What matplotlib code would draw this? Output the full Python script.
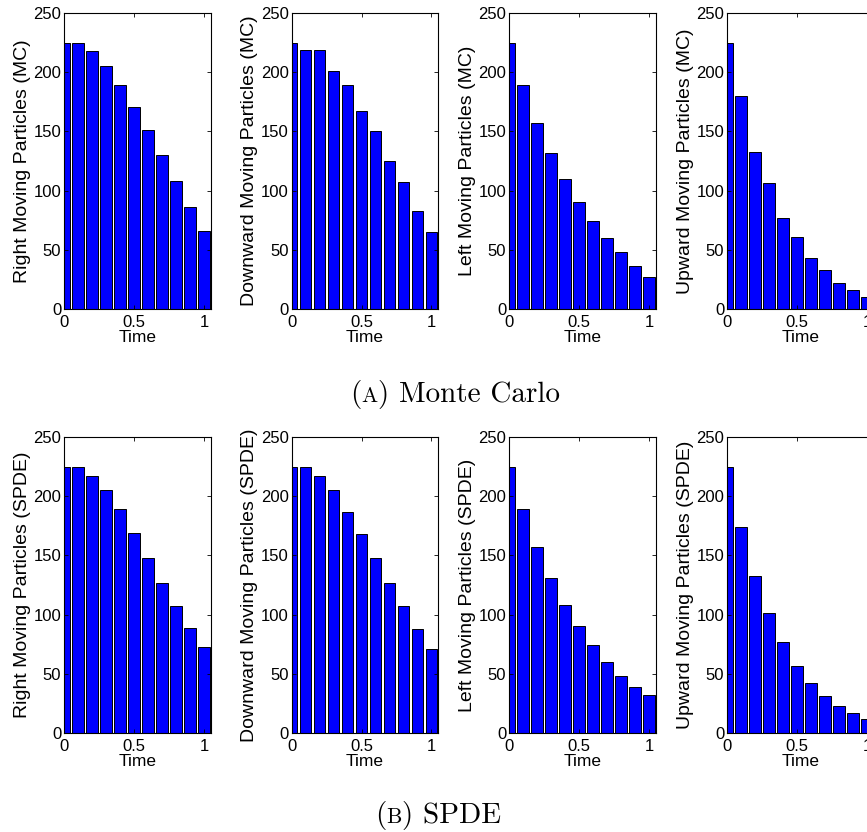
import numpy as np
import matplotlib
matplotlib.use("Agg")
import matplotlib.pyplot as plt

# time grid shared by every panel
time = [0.0, 0.1, 0.2, 0.3, 0.4, 0.5, 0.6, 0.7, 0.8, 0.9, 1.0]

# Monte Carlo counts
right_mc = [225, 225, 218, 205, 189, 171, 151, 130, 108, 86, 66]
down_mc  = [225, 219, 219, 201, 189, 167, 150, 125, 107, 83, 65]
left_mc  = [225, 189, 157, 132, 110, 90, 74, 60, 48, 36, 27]
up_mc    = [225, 180, 133, 106, 77, 61, 43, 33, 22, 16, 10]

# SPDE counts
right_spde = [225, 225, 217, 205, 189, 169, 148, 127, 107, 89, 73]
down_spde  = [225, 225, 217, 205, 187, 168, 148, 127, 107, 88, 71]
left_spde  = [225, 189, 157, 131, 108, 90, 74, 60, 48, 39, 32]
up_spde    = [225, 174, 133, 101, 77, 57, 42, 31, 23, 17, 12]

rows = [
    ([right_mc, down_mc, left_mc, up_mc],
     ["Right Moving Particles (MC)", "Downward Moving Particles (MC)",
      "Left Moving Particles (MC)", "Upward Moving Particles (MC)"]),
    ([right_spde, down_spde, left_spde, up_spde],
     ["Right Moving Particles (SPDE)", "Downward Moving Particles (SPDE)",
      "Left Moving Particles (SPDE)", "Upward Moving Particles (SPDE)"]),
]
# caption pieces: "(", small-cap letter, rest
captions = [("(", "A", ") Monte Carlo"), ("(", "B", ") SPDE")]

W, H = 867, 832
fig = plt.figure(figsize=(W / 100, H / 100), dpi=100)
plt.rcParams["font.family"] = ["Liberation Sans", "DejaVu Sans"]

lefts = [64, 291.5, 509, 727]
row_top = [13, 437]
ax_w, ax_h = 147, 296

for r, (series, labels) in enumerate(rows):
    for c in range(4):
        ax = fig.add_axes([lefts[c] / W, 1 - (row_top[r] + ax_h) / H, ax_w / W, ax_h / H])
        ax.bar(time, series[c], width=0.08, color="#0000ff", edgecolor="black", linewidth=0.7)
        ax.set_xlim(0, 1.05)
        ax.set_ylim(0, 250)
        ax.set_xticks([0, 0.5, 1])
        ax.set_xticklabels(["0", "0.5", "1"])
        ax.set_yticks([0, 50, 100, 150, 200, 250])
        ax.tick_params(direction="in", top=True, right=True, length=3, width=0.6,
                       labelsize=12, pad=2)
        ax.tick_params(axis="x", pad=4)
        for sp in ax.spines.values():
            sp.set_linewidth(0.8)
        ax.set_xlabel("Time", fontsize=12.5, labelpad=0)
        ax.set_ylabel(labels[c], fontsize=14, labelpad=2)

# captions in a Computer Modern look, small caps faked with a smaller capital
renderer = fig.canvas.get_renderer()
cap_center = [455, 438]
cap_base = [402, 823]
sizes = [21, 15.5, 21]
for cx, by, pieces in zip(cap_center, cap_base, captions):
    texts = [fig.text(0, 1 - by / H, p, fontsize=s, family="cmr10", va="baseline")
             for p, s in zip(pieces, sizes)]
    widths = [t.get_window_extent(renderer).width for t in texts]
    x = cx - sum(widths) / 2
    for t, w in zip(texts, widths):
        t.set_x(x / W)
        x += w

fig.savefig("out.png", dpi=100)
